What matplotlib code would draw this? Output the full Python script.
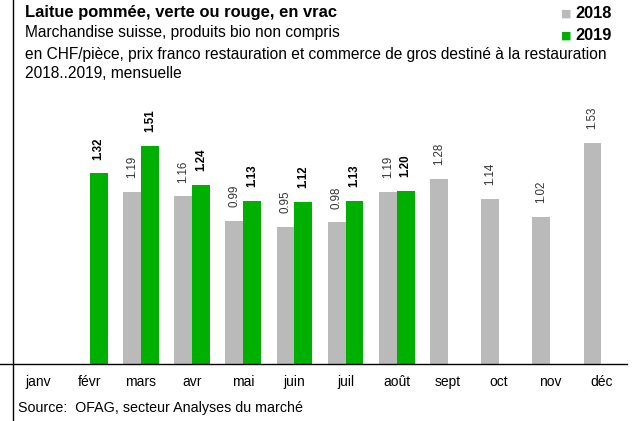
import numpy as np
import matplotlib
matplotlib.use("Agg")
import matplotlib.pyplot as plt
from matplotlib.lines import Line2D

plt.rcParams['font.family'] = ['Liberation Sans', 'DejaVu Sans']

months = ['janv', 'févr', 'mars', 'avr', 'mai', 'juin', 'juil', 'août',
          'sept', 'oct', 'nov', 'déc']
prix_2018 = [np.nan, np.nan, 1.19, 1.16, 0.99, 0.95, 0.98, 1.19, 1.28, 1.14, 1.02, 1.53]
prix_2019 = [np.nan, 1.32, 1.51, 1.24, 1.13, 1.12, 1.13, 1.20, np.nan, np.nan, np.nan, np.nan]

GRIS = '#BABABA'
VERT = '#00B000'

W, H = 637, 421
fig = plt.figure(figsize=(W / 100, H / 100), dpi=100)
ax = fig.add_axes([13 / W, 1 - 364 / H, (627 - 13) / W, 364 / H])

x = np.arange(len(months))
bw = 0.35
ax.bar(x - bw / 2, prix_2018, bw, color=GRIS)
ax.bar(x + bw / 2, prix_2019, bw, color=VERT)

# étiquettes de valeurs
for xi, v in zip(x, prix_2018):
    if not np.isnan(v):
        ax.annotate(f'{v:.2f}', (xi - bw / 2, v), xytext=(0, 10), textcoords='offset points',
                    rotation=90, ha='center', va='bottom', fontsize=8.3, color='#333333')
for xi, v in zip(x, prix_2019):
    if not np.isnan(v):
        ax.annotate(f'{v:.2f}', (xi + bw / 2, v), xytext=(0, 10), textcoords='offset points',
                    rotation=90, ha='center', va='bottom', fontsize=8.3, fontweight='bold',
                    color='black')

ax.set_xlim(-0.5, 11.5)
ax.set_ylim(0, 364 / 144.4)
ax.set_xticks(x)
ax.set_xticklabels(months, fontsize=10)
ax.tick_params(axis='x', length=0, pad=8)
ax.set_yticks([])
for s in ax.spines.values():
    s.set_visible(False)
ax.patch.set_visible(False)

# cadre
fig.add_artist(Line2D([13 / W, 13 / W], [0, 1], color='black', lw=1))
fig.add_artist(Line2D([0, 627 / W], [1 - 364 / H, 1 - 364 / H], color='black', lw=1))

# titres
fig.text(25 / W, 1 - 12 / H, 'Laitue pommée, verte ou rouge, en vrac', fontsize=11.9,
         fontweight='bold', va='center')
fig.text(25 / W, 1 - 33 / H, 'Marchandise suisse, produits bio non compris', fontsize=11.2, va='center')
fig.text(25 / W, 1 - 54 / H,
         'en CHF/pièce, prix franco restauration et commerce de gros destiné à la restauration',
         fontsize=11.2, va='center')
fig.text(25 / W, 1 - 73 / H, '2018..2019, mensuelle', fontsize=11.2, va='center')

# légende
for yy, lab, col in [(14, '2018', GRIS), (36, '2019', VERT)]:
    fig.text(566 / W, 1 - yy / H, '■', fontsize=8, color=col, va='center', ha='center',
             family=['DejaVu Sans'])
    fig.text(575 / W, 1 - yy / H, lab, fontsize=11.8, fontweight='bold', va='center')

fig.text(18 / W, 1 - 408 / H, 'Source:  OFAG, secteur Analyses du marché', fontsize=10.3, va='center')

fig.savefig('out.png', dpi=100)
